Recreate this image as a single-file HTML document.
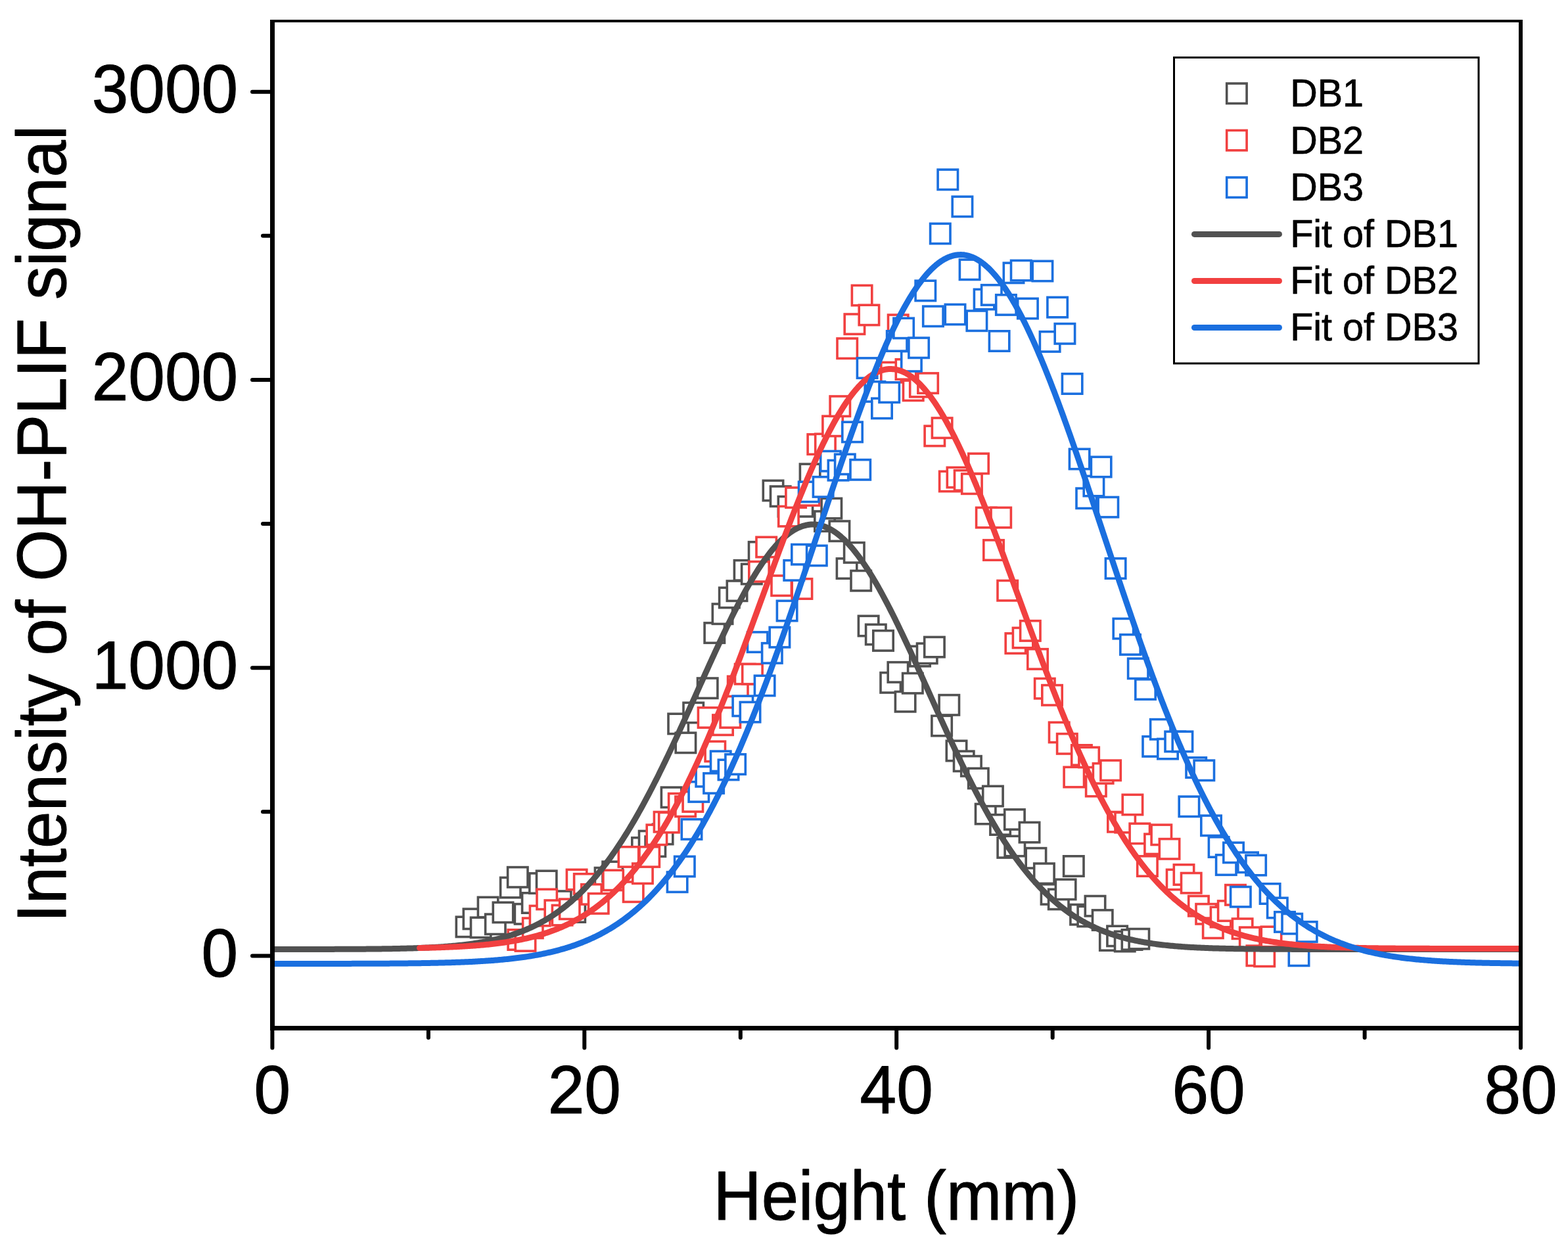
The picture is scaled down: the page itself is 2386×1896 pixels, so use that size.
<!DOCTYPE html><html><head><meta charset="utf-8"><title>OH-PLIF</title><style>html,body{margin:0;padding:0;background:#fff;overflow:hidden}svg{display:block}</style></head><body>
<svg width="2386" height="1896" viewBox="0 0 2386 1896">
<rect width="2386" height="1896" fill="#fff"/>
<defs><clipPath id="pa"><rect x="418" y="34" width="1893" height="1527"/></clipPath></defs>
<g clip-path="url(#pa)" fill="#fff" stroke="#515151" stroke-width="3.6" stroke-linejoin="miter">
<rect x="694.3" y="1395.2" width="30.4" height="30.4"/>
<rect x="705.3" y="1383.1" width="30.4" height="30.4"/>
<rect x="716.5" y="1396.2" width="30.4" height="30.4"/>
<rect x="727.4" y="1365.3" width="30.4" height="30.4"/>
<rect x="738.6" y="1391.1" width="30.4" height="30.4"/>
<rect x="750.3" y="1373.2" width="30.4" height="30.4"/>
<rect x="761.6" y="1335.4" width="30.4" height="30.4"/>
<rect x="772.6" y="1319.6" width="30.4" height="30.4"/>
<rect x="783.4" y="1375.6" width="30.4" height="30.4"/>
<rect x="794.6" y="1358.8" width="30.4" height="30.4"/>
<rect x="805.8" y="1328.9" width="30.4" height="30.4"/>
<rect x="816.5" y="1325.2" width="30.4" height="30.4"/>
<rect x="838.5" y="1356.0" width="30.4" height="30.4"/>
<rect x="860.0" y="1372.8" width="30.4" height="30.4"/>
<rect x="905.4" y="1320.5" width="30.4" height="30.4"/>
<rect x="917.0" y="1311.2" width="30.4" height="30.4"/>
<rect x="961.8" y="1274.7" width="30.4" height="30.4"/>
<rect x="972.5" y="1264.5" width="30.4" height="30.4"/>
<rect x="982.1" y="1272.9" width="30.4" height="30.4"/>
<rect x="993.4" y="1254.2" width="30.4" height="30.4"/>
<rect x="1006.4" y="1198.1" width="30.4" height="30.4"/>
<rect x="1017.0" y="1086.2" width="30.4" height="30.4"/>
<rect x="1028.2" y="1115.1" width="30.4" height="30.4"/>
<rect x="1040.0" y="1069.3" width="30.4" height="30.4"/>
<rect x="1061.5" y="1032.0" width="30.4" height="30.4"/>
<rect x="1072.1" y="947.9" width="30.4" height="30.4"/>
<rect x="1084.3" y="919.0" width="30.4" height="30.4"/>
<rect x="1094.6" y="894.3" width="30.4" height="30.4"/>
<rect x="1106.3" y="884.0" width="30.4" height="30.4"/>
<rect x="1117.4" y="852.7" width="30.4" height="30.4"/>
<rect x="1128.6" y="858.3" width="30.4" height="30.4"/>
<rect x="1139.5" y="824.7" width="30.4" height="30.4"/>
<rect x="1161.3" y="731.3" width="30.4" height="30.4"/>
<rect x="1172.5" y="740.1" width="30.4" height="30.4"/>
<rect x="1184.3" y="755.6" width="30.4" height="30.4"/>
<rect x="1206.2" y="755.6" width="30.4" height="30.4"/>
<rect x="1217.4" y="706.1" width="30.4" height="30.4"/>
<rect x="1239.8" y="778.0" width="30.4" height="30.4"/>
<rect x="1250.1" y="758.4" width="30.4" height="30.4"/>
<rect x="1262.2" y="793.0" width="30.4" height="30.4"/>
<rect x="1273.4" y="849.9" width="30.4" height="30.4"/>
<rect x="1284.6" y="825.7" width="30.4" height="30.4"/>
<rect x="1295.0" y="868.5" width="30.4" height="30.4"/>
<rect x="1306.4" y="937.3" width="30.4" height="30.4"/>
<rect x="1317.6" y="950.3" width="30.4" height="30.4"/>
<rect x="1328.8" y="959.7" width="30.4" height="30.4"/>
<rect x="1340.0" y="1023.6" width="30.4" height="30.4"/>
<rect x="1351.2" y="1007.7" width="30.4" height="30.4"/>
<rect x="1362.4" y="1052.5" width="30.4" height="30.4"/>
<rect x="1373.6" y="1024.5" width="30.4" height="30.4"/>
<rect x="1384.8" y="983.4" width="30.4" height="30.4"/>
<rect x="1395.5" y="979.1" width="30.4" height="30.4"/>
<rect x="1406.7" y="969.4" width="30.4" height="30.4"/>
<rect x="1417.9" y="1089.3" width="30.4" height="30.4"/>
<rect x="1429.1" y="1057.6" width="30.4" height="30.4"/>
<rect x="1440.3" y="1127.3" width="30.4" height="30.4"/>
<rect x="1451.5" y="1143.1" width="30.4" height="30.4"/>
<rect x="1462.7" y="1150.6" width="30.4" height="30.4"/>
<rect x="1473.6" y="1169.2" width="30.4" height="30.4"/>
<rect x="1484.5" y="1223.4" width="30.4" height="30.4"/>
<rect x="1495.7" y="1196.3" width="30.4" height="30.4"/>
<rect x="1506.9" y="1239.8" width="30.4" height="30.4"/>
<rect x="1518.1" y="1274.7" width="30.4" height="30.4"/>
<rect x="1528.7" y="1231.8" width="30.4" height="30.4"/>
<rect x="1529.1" y="1272.3" width="30.4" height="30.4"/>
<rect x="1551.3" y="1251.4" width="30.4" height="30.4"/>
<rect x="1561.2" y="1290.6" width="30.4" height="30.4"/>
<rect x="1573.7" y="1314.0" width="30.4" height="30.4"/>
<rect x="1584.4" y="1345.7" width="30.4" height="30.4"/>
<rect x="1595.6" y="1353.2" width="30.4" height="30.4"/>
<rect x="1606.4" y="1338.2" width="30.4" height="30.4"/>
<rect x="1618.6" y="1302.8" width="30.4" height="30.4"/>
<rect x="1628.9" y="1376.5" width="30.4" height="30.4"/>
<rect x="1640.1" y="1379.3" width="30.4" height="30.4"/>
<rect x="1651.3" y="1363.5" width="30.4" height="30.4"/>
<rect x="1662.5" y="1384.9" width="30.4" height="30.4"/>
<rect x="1673.7" y="1415.8" width="30.4" height="30.4"/>
<rect x="1684.9" y="1409.2" width="30.4" height="30.4"/>
<rect x="1696.5" y="1417.3" width="30.4" height="30.4"/>
<rect x="1707.3" y="1414.8" width="30.4" height="30.4"/>
<rect x="1718.1" y="1413.5" width="30.4" height="30.4"/>
</g>
<g clip-path="url(#pa)" fill="#fff" stroke="#F14040" stroke-width="3.6" stroke-linejoin="miter">
<rect x="773.1" y="1414.8" width="30.4" height="30.4"/>
<rect x="784.3" y="1416.7" width="30.4" height="30.4"/>
<rect x="795.6" y="1397.1" width="30.4" height="30.4"/>
<rect x="806.4" y="1378.4" width="30.4" height="30.4"/>
<rect x="817.0" y="1353.2" width="30.4" height="30.4"/>
<rect x="829.2" y="1370.0" width="30.4" height="30.4"/>
<rect x="840.4" y="1377.5" width="30.4" height="30.4"/>
<rect x="851.6" y="1368.1" width="30.4" height="30.4"/>
<rect x="862.4" y="1323.3" width="30.4" height="30.4"/>
<rect x="873.6" y="1329.8" width="30.4" height="30.4"/>
<rect x="884.8" y="1345.7" width="30.4" height="30.4"/>
<rect x="895.5" y="1359.7" width="30.4" height="30.4"/>
<rect x="917.9" y="1324.2" width="30.4" height="30.4"/>
<rect x="941.3" y="1288.7" width="30.4" height="30.4"/>
<rect x="948.5" y="1342.0" width="30.4" height="30.4"/>
<rect x="962.7" y="1314.0" width="30.4" height="30.4"/>
<rect x="973.0" y="1288.7" width="30.4" height="30.4"/>
<rect x="984.2" y="1255.1" width="30.4" height="30.4"/>
<rect x="995.4" y="1235.5" width="30.4" height="30.4"/>
<rect x="1002.7" y="1236.4" width="30.4" height="30.4"/>
<rect x="1017.6" y="1207.5" width="30.4" height="30.4"/>
<rect x="1027.9" y="1212.1" width="30.4" height="30.4"/>
<rect x="1039.1" y="1204.7" width="30.4" height="30.4"/>
<rect x="1062.4" y="1076.8" width="30.4" height="30.4"/>
<rect x="1073.1" y="1128.2" width="30.4" height="30.4"/>
<rect x="1084.8" y="1088.0" width="30.4" height="30.4"/>
<rect x="1096.1" y="1076.8" width="30.4" height="30.4"/>
<rect x="1107.6" y="1029.2" width="30.4" height="30.4"/>
<rect x="1118.5" y="1010.5" width="30.4" height="30.4"/>
<rect x="1129.7" y="1010.5" width="30.4" height="30.4"/>
<rect x="1139.8" y="854.6" width="30.4" height="30.4"/>
<rect x="1151.0" y="817.3" width="30.4" height="30.4"/>
<rect x="1174.0" y="876.0" width="30.4" height="30.4"/>
<rect x="1184.7" y="770.5" width="30.4" height="30.4"/>
<rect x="1195.9" y="742.0" width="30.4" height="30.4"/>
<rect x="1205.2" y="880.8" width="30.4" height="30.4"/>
<rect x="1216.4" y="738.8" width="30.4" height="30.4"/>
<rect x="1229.1" y="660.9" width="30.4" height="30.4"/>
<rect x="1240.7" y="660.3" width="30.4" height="30.4"/>
<rect x="1251.9" y="633.2" width="30.4" height="30.4"/>
<rect x="1263.1" y="603.0" width="30.4" height="30.4"/>
<rect x="1274.0" y="515.0" width="30.4" height="30.4"/>
<rect x="1285.2" y="478.0" width="30.4" height="30.4"/>
<rect x="1296.4" y="434.3" width="30.4" height="30.4"/>
<rect x="1307.2" y="464.2" width="30.4" height="30.4"/>
<rect x="1340.8" y="551.4" width="30.4" height="30.4"/>
<rect x="1351.5" y="479.1" width="30.4" height="30.4"/>
<rect x="1363.3" y="546.8" width="30.4" height="30.4"/>
<rect x="1374.5" y="579.1" width="30.4" height="30.4"/>
<rect x="1384.7" y="573.5" width="30.4" height="30.4"/>
<rect x="1396.9" y="567.9" width="30.4" height="30.4"/>
<rect x="1407.1" y="648.2" width="30.4" height="30.4"/>
<rect x="1418.4" y="636.0" width="30.4" height="30.4"/>
<rect x="1429.6" y="717.3" width="30.4" height="30.4"/>
<rect x="1441.3" y="711.3" width="30.4" height="30.4"/>
<rect x="1452.5" y="715.8" width="30.4" height="30.4"/>
<rect x="1463.7" y="721.0" width="30.4" height="30.4"/>
<rect x="1473.8" y="690.2" width="30.4" height="30.4"/>
<rect x="1485.6" y="772.4" width="30.4" height="30.4"/>
<rect x="1496.8" y="821.9" width="30.4" height="30.4"/>
<rect x="1508.0" y="772.4" width="30.4" height="30.4"/>
<rect x="1518.0" y="883.5" width="30.4" height="30.4"/>
<rect x="1530.2" y="963.8" width="30.4" height="30.4"/>
<rect x="1541.4" y="955.4" width="30.4" height="30.4"/>
<rect x="1552.6" y="944.7" width="30.4" height="30.4"/>
<rect x="1563.8" y="987.7" width="30.4" height="30.4"/>
<rect x="1574.6" y="1032.5" width="30.4" height="30.4"/>
<rect x="1585.8" y="1042.6" width="30.4" height="30.4"/>
<rect x="1596.5" y="1099.2" width="30.4" height="30.4"/>
<rect x="1608.6" y="1116.6" width="30.4" height="30.4"/>
<rect x="1619.1" y="1167.3" width="30.4" height="30.4"/>
<rect x="1630.7" y="1133.8" width="30.4" height="30.4"/>
<rect x="1641.9" y="1137.2" width="30.4" height="30.4"/>
<rect x="1652.6" y="1181.3" width="30.4" height="30.4"/>
<rect x="1663.4" y="1161.7" width="30.4" height="30.4"/>
<rect x="1674.9" y="1157.1" width="30.4" height="30.4"/>
<rect x="1685.8" y="1235.5" width="30.4" height="30.4"/>
<rect x="1697.0" y="1236.4" width="30.4" height="30.4"/>
<rect x="1708.2" y="1209.3" width="30.4" height="30.4"/>
<rect x="1719.1" y="1253.2" width="30.4" height="30.4"/>
<rect x="1730.7" y="1302.8" width="30.4" height="30.4"/>
<rect x="1741.9" y="1269.1" width="30.4" height="30.4"/>
<rect x="1752.1" y="1255.1" width="30.4" height="30.4"/>
<rect x="1764.3" y="1276.6" width="30.4" height="30.4"/>
<rect x="1775.5" y="1323.3" width="30.4" height="30.4"/>
<rect x="1786.3" y="1315.8" width="30.4" height="30.4"/>
<rect x="1797.5" y="1328.5" width="30.4" height="30.4"/>
<rect x="1808.7" y="1363.5" width="30.4" height="30.4"/>
<rect x="1820.0" y="1375.6" width="30.4" height="30.4"/>
<rect x="1830.6" y="1397.1" width="30.4" height="30.4"/>
<rect x="1842.4" y="1380.3" width="30.4" height="30.4"/>
<rect x="1853.6" y="1370.9" width="30.4" height="30.4"/>
<rect x="1864.8" y="1346.6" width="30.4" height="30.4"/>
<rect x="1875.4" y="1398.0" width="30.4" height="30.4"/>
<rect x="1886.6" y="1411.1" width="30.4" height="30.4"/>
<rect x="1897.2" y="1439.1" width="30.4" height="30.4"/>
<rect x="1909.0" y="1440.1" width="30.4" height="30.4"/>
<rect x="1919.3" y="1410.2" width="30.4" height="30.4"/>
</g>
<g clip-path="url(#pa)" fill="#fff" stroke="#1A6FDF" stroke-width="3.6" stroke-linejoin="miter">
<rect x="1015.4" y="1327.0" width="30.4" height="30.4"/>
<rect x="1026.6" y="1303.3" width="30.4" height="30.4"/>
<rect x="1037.3" y="1246.7" width="30.4" height="30.4"/>
<rect x="1048.1" y="1189.7" width="30.4" height="30.4"/>
<rect x="1059.1" y="1166.5" width="30.4" height="30.4"/>
<rect x="1070.9" y="1176.7" width="30.4" height="30.4"/>
<rect x="1081.5" y="1143.1" width="30.4" height="30.4"/>
<rect x="1093.3" y="1156.2" width="30.4" height="30.4"/>
<rect x="1103.9" y="1147.8" width="30.4" height="30.4"/>
<rect x="1115.1" y="1059.1" width="30.4" height="30.4"/>
<rect x="1126.3" y="1068.4" width="30.4" height="30.4"/>
<rect x="1137.5" y="961.9" width="30.4" height="30.4"/>
<rect x="1148.4" y="1028.2" width="30.4" height="30.4"/>
<rect x="1159.6" y="978.7" width="30.4" height="30.4"/>
<rect x="1171.2" y="954.5" width="30.4" height="30.4"/>
<rect x="1182.4" y="914.3" width="30.4" height="30.4"/>
<rect x="1193.1" y="852.7" width="30.4" height="30.4"/>
<rect x="1204.8" y="828.5" width="30.4" height="30.4"/>
<rect x="1215.5" y="733.2" width="30.4" height="30.4"/>
<rect x="1227.6" y="830.3" width="30.4" height="30.4"/>
<rect x="1237.4" y="725.7" width="30.4" height="30.4"/>
<rect x="1248.7" y="686.5" width="30.4" height="30.4"/>
<rect x="1260.3" y="700.5" width="30.4" height="30.4"/>
<rect x="1270.6" y="691.2" width="30.4" height="30.4"/>
<rect x="1281.8" y="642.2" width="30.4" height="30.4"/>
<rect x="1294.0" y="699.6" width="30.4" height="30.4"/>
<rect x="1304.4" y="544.9" width="30.4" height="30.4"/>
<rect x="1316.2" y="580.7" width="30.4" height="30.4"/>
<rect x="1326.8" y="606.2" width="30.4" height="30.4"/>
<rect x="1338.0" y="581.9" width="30.4" height="30.4"/>
<rect x="1349.6" y="503.8" width="30.4" height="30.4"/>
<rect x="1359.9" y="484.2" width="30.4" height="30.4"/>
<rect x="1371.7" y="534.6" width="30.4" height="30.4"/>
<rect x="1382.9" y="514.1" width="30.4" height="30.4"/>
<rect x="1393.1" y="427.2" width="30.4" height="30.4"/>
<rect x="1404.7" y="466.1" width="30.4" height="30.4"/>
<rect x="1415.6" y="340.3" width="30.4" height="30.4"/>
<rect x="1427.1" y="258.1" width="30.4" height="30.4"/>
<rect x="1438.3" y="463.3" width="30.4" height="30.4"/>
<rect x="1449.2" y="299.2" width="30.4" height="30.4"/>
<rect x="1460.4" y="395.1" width="30.4" height="30.4"/>
<rect x="1471.2" y="473.0" width="30.4" height="30.4"/>
<rect x="1482.4" y="440.3" width="30.4" height="30.4"/>
<rect x="1493.6" y="433.7" width="30.4" height="30.4"/>
<rect x="1505.4" y="503.8" width="30.4" height="30.4"/>
<rect x="1515.7" y="448.7" width="30.4" height="30.4"/>
<rect x="1527.3" y="400.1" width="30.4" height="30.4"/>
<rect x="1538.5" y="396.4" width="30.4" height="30.4"/>
<rect x="1548.7" y="454.3" width="30.4" height="30.4"/>
<rect x="1571.2" y="397.3" width="30.4" height="30.4"/>
<rect x="1582.4" y="504.7" width="30.4" height="30.4"/>
<rect x="1593.9" y="452.4" width="30.4" height="30.4"/>
<rect x="1605.2" y="492.6" width="30.4" height="30.4"/>
<rect x="1616.4" y="568.8" width="30.4" height="30.4"/>
<rect x="1627.4" y="683.3" width="30.4" height="30.4"/>
<rect x="1638.0" y="743.1" width="30.4" height="30.4"/>
<rect x="1649.2" y="724.4" width="30.4" height="30.4"/>
<rect x="1660.4" y="695.3" width="30.4" height="30.4"/>
<rect x="1671.1" y="756.5" width="30.4" height="30.4"/>
<rect x="1682.4" y="849.8" width="30.4" height="30.4"/>
<rect x="1694.2" y="941.4" width="30.4" height="30.4"/>
<rect x="1704.8" y="965.7" width="30.4" height="30.4"/>
<rect x="1716.6" y="1002.1" width="30.4" height="30.4"/>
<rect x="1727.8" y="1033.8" width="30.4" height="30.4"/>
<rect x="1739.0" y="1120.7" width="30.4" height="30.4"/>
<rect x="1750.6" y="1094.6" width="30.4" height="30.4"/>
<rect x="1761.8" y="1124.4" width="30.4" height="30.4"/>
<rect x="1773.0" y="1113.2" width="30.4" height="30.4"/>
<rect x="1784.2" y="1113.2" width="30.4" height="30.4"/>
<rect x="1794.2" y="1212.1" width="30.4" height="30.4"/>
<rect x="1805.0" y="1152.8" width="30.4" height="30.4"/>
<rect x="1817.1" y="1157.1" width="30.4" height="30.4"/>
<rect x="1827.8" y="1241.1" width="30.4" height="30.4"/>
<rect x="1839.4" y="1273.8" width="30.4" height="30.4"/>
<rect x="1850.6" y="1300.9" width="30.4" height="30.4"/>
<rect x="1861.8" y="1282.2" width="30.4" height="30.4"/>
<rect x="1872.6" y="1349.5" width="30.4" height="30.4"/>
<rect x="1883.8" y="1297.1" width="30.4" height="30.4"/>
<rect x="1895.9" y="1301.4" width="30.4" height="30.4"/>
<rect x="1917.4" y="1344.8" width="30.4" height="30.4"/>
<rect x="1928.6" y="1366.3" width="30.4" height="30.4"/>
<rect x="1939.8" y="1387.7" width="30.4" height="30.4"/>
<rect x="1951.0" y="1390.5" width="30.4" height="30.4"/>
<rect x="1961.3" y="1439.1" width="30.4" height="30.4"/>
<rect x="1973.5" y="1402.7" width="30.4" height="30.4"/>
</g>
<path clip-path="url(#pa)" fill="none" stroke="#515151" stroke-width="9" stroke-linecap="round" stroke-linejoin="round" d="M412.0 1444.49 L414.0 1444.49 L416.0 1444.49 L418.0 1444.49 L420.0 1444.49 L422.0 1444.49 L424.0 1444.48 L426.0 1444.48 L428.0 1444.48 L430.0 1444.48 L432.0 1444.48 L434.0 1444.48 L436.0 1444.48 L438.0 1444.48 L440.0 1444.48 L442.0 1444.48 L444.0 1444.47 L446.0 1444.47 L448.0 1444.47 L450.0 1444.47 L452.0 1444.47 L454.0 1444.47 L456.0 1444.47 L458.0 1444.46 L460.0 1444.46 L462.0 1444.46 L464.0 1444.46 L466.0 1444.46 L468.0 1444.45 L470.0 1444.45 L472.0 1444.45 L474.0 1444.45 L476.0 1444.44 L478.0 1444.44 L480.0 1444.44 L482.0 1444.43 L484.0 1444.43 L486.0 1444.43 L488.0 1444.42 L490.0 1444.42 L492.0 1444.42 L494.0 1444.41 L496.0 1444.41 L498.0 1444.40 L500.0 1444.40 L502.0 1444.39 L504.0 1444.39 L506.0 1444.38 L508.0 1444.38 L510.0 1444.37 L512.0 1444.37 L514.0 1444.36 L516.0 1444.35 L518.0 1444.35 L520.0 1444.34 L522.0 1444.33 L524.0 1444.32 L526.0 1444.32 L528.0 1444.31 L530.0 1444.30 L532.0 1444.29 L534.0 1444.28 L536.0 1444.27 L538.0 1444.26 L540.0 1444.25 L542.0 1444.23 L544.0 1444.22 L546.0 1444.21 L548.0 1444.20 L550.0 1444.18 L552.0 1444.17 L554.0 1444.15 L556.0 1444.14 L558.0 1444.12 L560.0 1444.10 L562.0 1444.09 L564.0 1444.07 L566.0 1444.05 L568.0 1444.03 L570.0 1444.01 L572.0 1443.99 L574.0 1443.96 L576.0 1443.94 L578.0 1443.92 L580.0 1443.89 L582.0 1443.86 L584.0 1443.84 L586.0 1443.81 L588.0 1443.78 L590.0 1443.75 L592.0 1443.72 L594.0 1443.68 L596.0 1443.65 L598.0 1443.61 L600.0 1443.58 L602.0 1443.54 L604.0 1443.50 L606.0 1443.45 L608.0 1443.41 L610.0 1443.37 L612.0 1443.32 L614.0 1443.27 L616.0 1443.22 L618.0 1443.17 L620.0 1443.11 L622.0 1443.06 L624.0 1443.00 L626.0 1442.94 L628.0 1442.88 L630.0 1442.81 L632.0 1442.74 L634.0 1442.67 L636.0 1442.60 L638.0 1442.53 L640.0 1442.45 L642.0 1442.37 L644.0 1442.28 L646.0 1442.20 L648.0 1442.11 L650.0 1442.02 L652.0 1441.92 L654.0 1441.82 L656.0 1441.72 L658.0 1441.61 L660.0 1441.50 L662.0 1441.39 L664.0 1441.27 L666.0 1441.15 L668.0 1441.03 L670.0 1440.90 L672.0 1440.76 L674.0 1440.62 L676.0 1440.48 L678.0 1440.33 L680.0 1440.18 L682.0 1440.02 L684.0 1439.86 L686.0 1439.69 L688.0 1439.51 L690.0 1439.34 L692.0 1439.15 L694.0 1438.96 L696.0 1438.76 L698.0 1438.56 L700.0 1438.35 L702.0 1438.13 L704.0 1437.91 L706.0 1437.68 L708.0 1437.44 L710.0 1437.19 L712.0 1436.94 L714.0 1436.68 L716.0 1436.41 L718.0 1436.14 L720.0 1435.85 L722.0 1435.56 L724.0 1435.26 L726.0 1434.95 L728.0 1434.63 L730.0 1434.30 L732.0 1433.96 L734.0 1433.61 L736.0 1433.25 L738.0 1432.88 L740.0 1432.51 L742.0 1432.11 L744.0 1431.71 L746.0 1431.30 L748.0 1430.88 L750.0 1430.44 L752.0 1429.99 L754.0 1429.53 L756.0 1429.06 L758.0 1428.57 L760.0 1428.07 L762.0 1427.56 L764.0 1427.03 L766.0 1426.49 L768.0 1425.94 L770.0 1425.37 L772.0 1424.79 L774.0 1424.19 L776.0 1423.57 L778.0 1422.94 L780.0 1422.29 L782.0 1421.63 L784.0 1420.95 L786.0 1420.25 L788.0 1419.54 L790.0 1418.80 L792.0 1418.05 L794.0 1417.28 L796.0 1416.50 L798.0 1415.69 L800.0 1414.86 L802.0 1414.02 L804.0 1413.15 L806.0 1412.26 L808.0 1411.36 L810.0 1410.43 L812.0 1409.48 L814.0 1408.50 L816.0 1407.51 L818.0 1406.49 L820.0 1405.45 L822.0 1404.39 L824.0 1403.30 L826.0 1402.19 L828.0 1401.06 L830.0 1399.90 L832.0 1398.71 L834.0 1397.50 L836.0 1396.27 L838.0 1395.01 L840.0 1393.72 L842.0 1392.40 L844.0 1391.06 L846.0 1389.69 L848.0 1388.29 L850.0 1386.87 L852.0 1385.41 L854.0 1383.93 L856.0 1382.42 L858.0 1380.88 L860.0 1379.30 L862.0 1377.70 L864.0 1376.07 L866.0 1374.41 L868.0 1372.71 L870.0 1370.99 L872.0 1369.23 L874.0 1367.44 L876.0 1365.61 L878.0 1363.76 L880.0 1361.87 L882.0 1359.95 L884.0 1358.00 L886.0 1356.01 L888.0 1353.98 L890.0 1351.93 L892.0 1349.84 L894.0 1347.71 L896.0 1345.55 L898.0 1343.35 L900.0 1341.12 L902.0 1338.85 L904.0 1336.55 L906.0 1334.21 L908.0 1331.84 L910.0 1329.43 L912.0 1326.98 L914.0 1324.49 L916.0 1321.97 L918.0 1319.41 L920.0 1316.82 L922.0 1314.19 L924.0 1311.52 L926.0 1308.81 L928.0 1306.07 L930.0 1303.29 L932.0 1300.47 L934.0 1297.62 L936.0 1294.72 L938.0 1291.80 L940.0 1288.83 L942.0 1285.83 L944.0 1282.78 L946.0 1279.71 L948.0 1276.59 L950.0 1273.44 L952.0 1270.25 L954.0 1267.03 L956.0 1263.77 L958.0 1260.47 L960.0 1257.14 L962.0 1253.77 L964.0 1250.36 L966.0 1246.92 L968.0 1243.45 L970.0 1239.94 L972.0 1236.40 L974.0 1232.82 L976.0 1229.21 L978.0 1225.56 L980.0 1221.89 L982.0 1218.18 L984.0 1214.43 L986.0 1210.66 L988.0 1206.85 L990.0 1203.02 L992.0 1199.15 L994.0 1195.26 L996.0 1191.33 L998.0 1187.38 L1000.0 1183.40 L1002.0 1179.39 L1004.0 1175.35 L1006.0 1171.29 L1008.0 1167.20 L1010.0 1163.09 L1012.0 1158.95 L1014.0 1154.79 L1016.0 1150.61 L1018.0 1146.41 L1020.0 1142.18 L1022.0 1137.93 L1024.0 1133.67 L1026.0 1129.39 L1028.0 1125.08 L1030.0 1120.77 L1032.0 1116.43 L1034.0 1112.08 L1036.0 1107.72 L1038.0 1103.34 L1040.0 1098.95 L1042.0 1094.55 L1044.0 1090.14 L1046.0 1085.72 L1048.0 1081.29 L1050.0 1076.85 L1052.0 1072.41 L1054.0 1067.97 L1056.0 1063.51 L1058.0 1059.06 L1060.0 1054.61 L1062.0 1050.15 L1064.0 1045.69 L1066.0 1041.24 L1068.0 1036.79 L1070.0 1032.34 L1072.0 1027.90 L1074.0 1023.47 L1076.0 1019.04 L1078.0 1014.62 L1080.0 1010.22 L1082.0 1005.82 L1084.0 1001.44 L1086.0 997.07 L1088.0 992.71 L1090.0 988.37 L1092.0 984.05 L1094.0 979.75 L1096.0 975.47 L1098.0 971.21 L1100.0 966.98 L1102.0 962.77 L1104.0 958.58 L1106.0 954.42 L1108.0 950.29 L1110.0 946.19 L1112.0 942.12 L1114.0 938.08 L1116.0 934.07 L1118.0 930.10 L1120.0 926.17 L1122.0 922.27 L1124.0 918.42 L1126.0 914.60 L1128.0 910.82 L1130.0 907.09 L1132.0 903.40 L1134.0 899.75 L1136.0 896.15 L1138.0 892.60 L1140.0 889.10 L1142.0 885.64 L1144.0 882.24 L1146.0 878.89 L1148.0 875.59 L1150.0 872.35 L1152.0 869.17 L1154.0 866.04 L1156.0 862.97 L1158.0 859.95 L1160.0 857.00 L1162.0 854.11 L1164.0 851.29 L1166.0 848.52 L1168.0 845.82 L1170.0 843.19 L1172.0 840.62 L1174.0 838.12 L1176.0 835.69 L1178.0 833.32 L1180.0 831.03 L1182.0 828.81 L1184.0 826.66 L1186.0 824.58 L1188.0 822.58 L1190.0 820.65 L1192.0 818.79 L1194.0 817.01 L1196.0 815.31 L1198.0 813.68 L1200.0 812.13 L1202.0 810.66 L1204.0 809.26 L1206.0 807.95 L1208.0 806.72 L1210.0 805.56 L1212.0 804.49 L1214.0 803.50 L1216.0 802.59 L1218.0 801.76 L1220.0 801.01 L1222.0 800.34 L1224.0 799.76 L1226.0 799.26 L1228.0 798.84 L1230.0 798.51 L1232.0 798.26 L1234.0 798.09 L1236.0 798.01 L1238.0 798.01 L1240.0 798.09 L1242.0 798.26 L1244.0 798.51 L1246.0 798.84 L1248.0 799.26 L1250.0 799.76 L1252.0 800.34 L1254.0 801.01 L1256.0 801.76 L1258.0 802.59 L1260.0 803.50 L1262.0 804.49 L1264.0 805.56 L1266.0 806.72 L1268.0 807.95 L1270.0 809.26 L1272.0 810.66 L1274.0 812.13 L1276.0 813.68 L1278.0 815.31 L1280.0 817.01 L1282.0 818.79 L1284.0 820.65 L1286.0 822.58 L1288.0 824.58 L1290.0 826.66 L1292.0 828.81 L1294.0 831.03 L1296.0 833.32 L1298.0 835.69 L1300.0 838.12 L1302.0 840.62 L1304.0 843.19 L1306.0 845.82 L1308.0 848.52 L1310.0 851.29 L1312.0 854.11 L1314.0 857.00 L1316.0 859.95 L1318.0 862.97 L1320.0 866.04 L1322.0 869.17 L1324.0 872.35 L1326.0 875.59 L1328.0 878.89 L1330.0 882.24 L1332.0 885.64 L1334.0 889.10 L1336.0 892.60 L1338.0 896.15 L1340.0 899.75 L1342.0 903.40 L1344.0 907.09 L1346.0 910.82 L1348.0 914.60 L1350.0 918.42 L1352.0 922.27 L1354.0 926.17 L1356.0 930.10 L1358.0 934.07 L1360.0 938.08 L1362.0 942.12 L1364.0 946.19 L1366.0 950.29 L1368.0 954.42 L1370.0 958.58 L1372.0 962.77 L1374.0 966.98 L1376.0 971.21 L1378.0 975.47 L1380.0 979.75 L1382.0 984.05 L1384.0 988.37 L1386.0 992.71 L1388.0 997.07 L1390.0 1001.44 L1392.0 1005.82 L1394.0 1010.22 L1396.0 1014.62 L1398.0 1019.04 L1400.0 1023.47 L1402.0 1027.90 L1404.0 1032.34 L1406.0 1036.79 L1408.0 1041.24 L1410.0 1045.69 L1412.0 1050.15 L1414.0 1054.61 L1416.0 1059.06 L1418.0 1063.51 L1420.0 1067.97 L1422.0 1072.41 L1424.0 1076.85 L1426.0 1081.29 L1428.0 1085.72 L1430.0 1090.14 L1432.0 1094.55 L1434.0 1098.95 L1436.0 1103.34 L1438.0 1107.72 L1440.0 1112.08 L1442.0 1116.43 L1444.0 1120.77 L1446.0 1125.08 L1448.0 1129.39 L1450.0 1133.67 L1452.0 1137.93 L1454.0 1142.18 L1456.0 1146.41 L1458.0 1150.61 L1460.0 1154.79 L1462.0 1158.95 L1464.0 1163.09 L1466.0 1167.20 L1468.0 1171.29 L1470.0 1175.35 L1472.0 1179.39 L1474.0 1183.40 L1476.0 1187.38 L1478.0 1191.33 L1480.0 1195.26 L1482.0 1199.15 L1484.0 1203.02 L1486.0 1206.85 L1488.0 1210.66 L1490.0 1214.43 L1492.0 1218.18 L1494.0 1221.89 L1496.0 1225.56 L1498.0 1229.21 L1500.0 1232.82 L1502.0 1236.40 L1504.0 1239.94 L1506.0 1243.45 L1508.0 1246.92 L1510.0 1250.36 L1512.0 1253.77 L1514.0 1257.14 L1516.0 1260.47 L1518.0 1263.77 L1520.0 1267.03 L1522.0 1270.25 L1524.0 1273.44 L1526.0 1276.59 L1528.0 1279.71 L1530.0 1282.78 L1532.0 1285.83 L1534.0 1288.83 L1536.0 1291.80 L1538.0 1294.72 L1540.0 1297.62 L1542.0 1300.47 L1544.0 1303.29 L1546.0 1306.07 L1548.0 1308.81 L1550.0 1311.52 L1552.0 1314.19 L1554.0 1316.82 L1556.0 1319.41 L1558.0 1321.97 L1560.0 1324.49 L1562.0 1326.98 L1564.0 1329.43 L1566.0 1331.84 L1568.0 1334.21 L1570.0 1336.55 L1572.0 1338.85 L1574.0 1341.12 L1576.0 1343.35 L1578.0 1345.55 L1580.0 1347.71 L1582.0 1349.84 L1584.0 1351.93 L1586.0 1353.98 L1588.0 1356.01 L1590.0 1358.00 L1592.0 1359.95 L1594.0 1361.87 L1596.0 1363.76 L1598.0 1365.61 L1600.0 1367.44 L1602.0 1369.23 L1604.0 1370.99 L1606.0 1372.71 L1608.0 1374.41 L1610.0 1376.07 L1612.0 1377.70 L1614.0 1379.30 L1616.0 1380.88 L1618.0 1382.42 L1620.0 1383.93 L1622.0 1385.41 L1624.0 1386.87 L1626.0 1388.29 L1628.0 1389.69 L1630.0 1391.06 L1632.0 1392.40 L1634.0 1393.72 L1636.0 1395.01 L1638.0 1396.27 L1640.0 1397.50 L1642.0 1398.71 L1644.0 1399.90 L1646.0 1401.06 L1648.0 1402.19 L1650.0 1403.30 L1652.0 1404.39 L1654.0 1405.45 L1656.0 1406.49 L1658.0 1407.51 L1660.0 1408.50 L1662.0 1409.48 L1664.0 1410.43 L1666.0 1411.36 L1668.0 1412.26 L1670.0 1413.15 L1672.0 1414.02 L1674.0 1414.86 L1676.0 1415.69 L1678.0 1416.50 L1680.0 1417.28 L1682.0 1418.05 L1684.0 1418.80 L1686.0 1419.54 L1688.0 1420.25 L1690.0 1420.95 L1692.0 1421.63 L1694.0 1422.29 L1696.0 1422.94 L1698.0 1423.57 L1700.0 1424.19 L1702.0 1424.79 L1704.0 1425.37 L1706.0 1425.94 L1708.0 1426.49 L1710.0 1427.03 L1712.0 1427.56 L1714.0 1428.07 L1716.0 1428.57 L1718.0 1429.06 L1720.0 1429.53 L1722.0 1429.99 L1724.0 1430.44 L1726.0 1430.88 L1728.0 1431.30 L1730.0 1431.71 L1732.0 1432.11 L1734.0 1432.51 L1736.0 1432.88 L1738.0 1433.25 L1740.0 1433.61 L1742.0 1433.96 L1744.0 1434.30 L1746.0 1434.63 L1748.0 1434.95 L1750.0 1435.26 L1752.0 1435.56 L1754.0 1435.85 L1756.0 1436.14 L1758.0 1436.41 L1760.0 1436.68 L1762.0 1436.94 L1764.0 1437.19 L1766.0 1437.44 L1768.0 1437.68 L1770.0 1437.91 L1772.0 1438.13 L1774.0 1438.35 L1776.0 1438.56 L1778.0 1438.76 L1780.0 1438.96 L1782.0 1439.15 L1784.0 1439.34 L1786.0 1439.51 L1788.0 1439.69 L1790.0 1439.86 L1792.0 1440.02 L1794.0 1440.18 L1796.0 1440.33 L1798.0 1440.48 L1800.0 1440.62 L1802.0 1440.76 L1804.0 1440.90 L1806.0 1441.03 L1808.0 1441.15 L1810.0 1441.27 L1812.0 1441.39 L1814.0 1441.50 L1816.0 1441.61 L1818.0 1441.72 L1820.0 1441.82 L1822.0 1441.92 L1824.0 1442.02 L1826.0 1442.11 L1828.0 1442.20 L1830.0 1442.28 L1832.0 1442.37 L1834.0 1442.45 L1836.0 1442.53 L1838.0 1442.60 L1840.0 1442.67 L1842.0 1442.74 L1844.0 1442.81 L1846.0 1442.88 L1848.0 1442.94 L1850.0 1443.00 L1852.0 1443.06 L1854.0 1443.11 L1856.0 1443.17 L1858.0 1443.22 L1860.0 1443.27 L1862.0 1443.32 L1864.0 1443.37 L1866.0 1443.41 L1868.0 1443.45 L1870.0 1443.50 L1872.0 1443.54 L1874.0 1443.58 L1876.0 1443.61 L1878.0 1443.65 L1880.0 1443.68 L1882.0 1443.72 L1884.0 1443.75 L1886.0 1443.78 L1888.0 1443.81 L1890.0 1443.84 L1892.0 1443.86 L1894.0 1443.89 L1896.0 1443.92 L1898.0 1443.94 L1900.0 1443.96 L1902.0 1443.99 L1904.0 1444.01 L1906.0 1444.03 L1908.0 1444.05 L1910.0 1444.07 L1912.0 1444.09 L1914.0 1444.10 L1916.0 1444.12 L1918.0 1444.14 L1920.0 1444.15 L1922.0 1444.17 L1924.0 1444.18 L1926.0 1444.20 L1928.0 1444.21 L1930.0 1444.22 L1932.0 1444.23 L1934.0 1444.25 L1936.0 1444.26 L1938.0 1444.27 L1940.0 1444.28 L1942.0 1444.29 L1944.0 1444.30 L1946.0 1444.31 L1948.0 1444.32 L1950.0 1444.32 L1952.0 1444.33 L1954.0 1444.34 L1956.0 1444.35 L1958.0 1444.35 L1960.0 1444.36 L1962.0 1444.37 L1964.0 1444.37 L1966.0 1444.38 L1968.0 1444.38 L1970.0 1444.39 L1972.0 1444.39 L1974.0 1444.40 L1976.0 1444.40 L1978.0 1444.41 L1980.0 1444.41 L1982.0 1444.42 L1984.0 1444.42 L1986.0 1444.42 L1988.0 1444.43 L1990.0 1444.43 L1992.0 1444.43 L1994.0 1444.44 L1996.0 1444.44 L1998.0 1444.44 L2000.0 1444.45 L2002.0 1444.45 L2004.0 1444.45 L2006.0 1444.45 L2008.0 1444.46 L2010.0 1444.46 L2012.0 1444.46 L2014.0 1444.46 L2016.0 1444.46 L2018.0 1444.47 L2020.0 1444.47 L2022.0 1444.47 L2024.0 1444.47 L2026.0 1444.47 L2028.0 1444.47 L2030.0 1444.47 L2032.0 1444.48 L2034.0 1444.48 L2036.0 1444.48 L2038.0 1444.48 L2040.0 1444.48 L2042.0 1444.48 L2044.0 1444.48 L2046.0 1444.48 L2048.0 1444.48 L2050.0 1444.48 L2052.0 1444.49 L2054.0 1444.49 L2056.0 1444.49 L2058.0 1444.49 L2060.0 1444.49 L2062.0 1444.49 L2064.0 1444.49 L2066.0 1444.49 L2068.0 1444.49 L2070.0 1444.49 L2072.0 1444.49 L2074.0 1444.49 L2076.0 1444.49 L2078.0 1444.49 L2080.0 1444.49 L2082.0 1444.49 L2084.0 1444.49 L2086.0 1444.49 L2088.0 1444.49 L2090.0 1444.49 L2092.0 1444.50 L2094.0 1444.50 L2096.0 1444.50 L2098.0 1444.50 L2100.0 1444.50 L2102.0 1444.50 L2104.0 1444.50 L2106.0 1444.50 L2108.0 1444.50 L2110.0 1444.50 L2112.0 1444.50 L2114.0 1444.50 L2116.0 1444.50 L2118.0 1444.50 L2120.0 1444.50 L2122.0 1444.50 L2124.0 1444.50 L2126.0 1444.50 L2128.0 1444.50 L2130.0 1444.50 L2132.0 1444.50 L2134.0 1444.50 L2136.0 1444.50 L2138.0 1444.50 L2140.0 1444.50 L2142.0 1444.50 L2144.0 1444.50 L2146.0 1444.50 L2148.0 1444.50 L2150.0 1444.50 L2152.0 1444.50 L2154.0 1444.50 L2156.0 1444.50 L2158.0 1444.50 L2160.0 1444.50 L2162.0 1444.50 L2164.0 1444.50 L2166.0 1444.50 L2168.0 1444.50 L2170.0 1444.50 L2172.0 1444.50 L2174.0 1444.50 L2176.0 1444.50 L2178.0 1444.50 L2180.0 1444.50 L2182.0 1444.50 L2184.0 1444.50 L2186.0 1444.50 L2188.0 1444.50 L2190.0 1444.50 L2192.0 1444.50 L2194.0 1444.50 L2196.0 1444.50 L2198.0 1444.50 L2200.0 1444.50 L2202.0 1444.50 L2204.0 1444.50 L2206.0 1444.50 L2208.0 1444.50 L2210.0 1444.50 L2212.0 1444.50 L2214.0 1444.50 L2216.0 1444.50 L2218.0 1444.50 L2220.0 1444.50 L2222.0 1444.50 L2224.0 1444.50 L2226.0 1444.50 L2228.0 1444.50 L2230.0 1444.50 L2232.0 1444.50 L2234.0 1444.50 L2236.0 1444.50 L2238.0 1444.50 L2240.0 1444.50 L2242.0 1444.50 L2244.0 1444.50 L2246.0 1444.50 L2248.0 1444.50 L2250.0 1444.50 L2252.0 1444.50 L2254.0 1444.50 L2256.0 1444.50 L2258.0 1444.50 L2260.0 1444.50 L2262.0 1444.50 L2264.0 1444.50 L2266.0 1444.50 L2268.0 1444.50 L2270.0 1444.50 L2272.0 1444.50 L2274.0 1444.50 L2276.0 1444.50 L2278.0 1444.50 L2280.0 1444.50 L2282.0 1444.50 L2284.0 1444.50 L2286.0 1444.50 L2288.0 1444.50 L2290.0 1444.50 L2292.0 1444.50 L2294.0 1444.50 L2296.0 1444.50 L2298.0 1444.50 L2300.0 1444.50 L2302.0 1444.50 L2304.0 1444.50 L2306.0 1444.50 L2308.0 1444.50 L2310.0 1444.50 L2312.0 1444.50"/>
<path clip-path="url(#pa)" fill="none" stroke="#F14040" stroke-width="9" stroke-linecap="round" stroke-linejoin="round" d="M638.5 1442.47 L640.5 1442.43 L642.5 1442.39 L644.5 1442.34 L646.5 1442.30 L648.5 1442.26 L650.5 1442.21 L652.5 1442.16 L654.5 1442.11 L656.5 1442.06 L658.5 1442.00 L660.5 1441.95 L662.5 1441.89 L664.5 1441.83 L666.5 1441.77 L668.5 1441.70 L670.5 1441.64 L672.5 1441.57 L674.5 1441.50 L676.5 1441.43 L678.5 1441.35 L680.5 1441.27 L682.5 1441.19 L684.5 1441.11 L686.5 1441.03 L688.5 1440.94 L690.5 1440.85 L692.5 1440.75 L694.5 1440.65 L696.5 1440.55 L698.5 1440.45 L700.5 1440.34 L702.5 1440.23 L704.5 1440.12 L706.5 1440.00 L708.5 1439.88 L710.5 1439.76 L712.5 1439.63 L714.5 1439.49 L716.5 1439.36 L718.5 1439.22 L720.5 1439.07 L722.5 1438.92 L724.5 1438.77 L726.5 1438.61 L728.5 1438.44 L730.5 1438.27 L732.5 1438.10 L734.5 1437.92 L736.5 1437.73 L738.5 1437.54 L740.5 1437.35 L742.5 1437.15 L744.5 1436.94 L746.5 1436.72 L748.5 1436.50 L750.5 1436.28 L752.5 1436.04 L754.5 1435.80 L756.5 1435.56 L758.5 1435.30 L760.5 1435.04 L762.5 1434.78 L764.5 1434.50 L766.5 1434.22 L768.5 1433.93 L770.5 1433.63 L772.5 1433.32 L774.5 1433.00 L776.5 1432.68 L778.5 1432.34 L780.5 1432.00 L782.5 1431.65 L784.5 1431.29 L786.5 1430.92 L788.5 1430.53 L790.5 1430.14 L792.5 1429.74 L794.5 1429.33 L796.5 1428.91 L798.5 1428.47 L800.5 1428.03 L802.5 1427.57 L804.5 1427.10 L806.5 1426.62 L808.5 1426.13 L810.5 1425.62 L812.5 1425.10 L814.5 1424.57 L816.5 1424.02 L818.5 1423.47 L820.5 1422.89 L822.5 1422.31 L824.5 1421.71 L826.5 1421.09 L828.5 1420.46 L830.5 1419.82 L832.5 1419.15 L834.5 1418.48 L836.5 1417.78 L838.5 1417.07 L840.5 1416.35 L842.5 1415.60 L844.5 1414.84 L846.5 1414.07 L848.5 1413.27 L850.5 1412.45 L852.5 1411.62 L854.5 1410.77 L856.5 1409.90 L858.5 1409.01 L860.5 1408.10 L862.5 1407.17 L864.5 1406.21 L866.5 1405.24 L868.5 1404.25 L870.5 1403.23 L872.5 1402.20 L874.5 1401.14 L876.5 1400.05 L878.5 1398.95 L880.5 1397.82 L882.5 1396.67 L884.5 1395.49 L886.5 1394.29 L888.5 1393.07 L890.5 1391.82 L892.5 1390.54 L894.5 1389.24 L896.5 1387.91 L898.5 1386.56 L900.5 1385.18 L902.5 1383.77 L904.5 1382.34 L906.5 1380.87 L908.5 1379.38 L910.5 1377.86 L912.5 1376.31 L914.5 1374.73 L916.5 1373.13 L918.5 1371.49 L920.5 1369.82 L922.5 1368.12 L924.5 1366.39 L926.5 1364.63 L928.5 1362.83 L930.5 1361.01 L932.5 1359.15 L934.5 1357.26 L936.5 1355.34 L938.5 1353.38 L940.5 1351.39 L942.5 1349.36 L944.5 1347.30 L946.5 1345.21 L948.5 1343.08 L950.5 1340.91 L952.5 1338.71 L954.5 1336.48 L956.5 1334.20 L958.5 1331.89 L960.5 1329.55 L962.5 1327.17 L964.5 1324.75 L966.5 1322.29 L968.5 1319.79 L970.5 1317.26 L972.5 1314.69 L974.5 1312.07 L976.5 1309.42 L978.5 1306.74 L980.5 1304.01 L982.5 1301.24 L984.5 1298.43 L986.5 1295.59 L988.5 1292.70 L990.5 1289.77 L992.5 1286.81 L994.5 1283.80 L996.5 1280.75 L998.5 1277.66 L1000.5 1274.53 L1002.5 1271.36 L1004.5 1268.15 L1006.5 1264.89 L1008.5 1261.60 L1010.5 1258.26 L1012.5 1254.89 L1014.5 1251.47 L1016.5 1248.01 L1018.5 1244.51 L1020.5 1240.96 L1022.5 1237.38 L1024.5 1233.75 L1026.5 1230.09 L1028.5 1226.38 L1030.5 1222.63 L1032.5 1218.84 L1034.5 1215.01 L1036.5 1211.14 L1038.5 1207.22 L1040.5 1203.27 L1042.5 1199.28 L1044.5 1195.24 L1046.5 1191.17 L1048.5 1187.05 L1050.5 1182.90 L1052.5 1178.71 L1054.5 1174.47 L1056.5 1170.20 L1058.5 1165.89 L1060.5 1161.54 L1062.5 1157.16 L1064.5 1152.73 L1066.5 1148.27 L1068.5 1143.77 L1070.5 1139.24 L1072.5 1134.67 L1074.5 1130.06 L1076.5 1125.42 L1078.5 1120.74 L1080.5 1116.03 L1082.5 1111.29 L1084.5 1106.51 L1086.5 1101.70 L1088.5 1096.85 L1090.5 1091.98 L1092.5 1087.07 L1094.5 1082.14 L1096.5 1077.17 L1098.5 1072.18 L1100.5 1067.15 L1102.5 1062.10 L1104.5 1057.02 L1106.5 1051.92 L1108.5 1046.79 L1110.5 1041.63 L1112.5 1036.45 L1114.5 1031.25 L1116.5 1026.02 L1118.5 1020.77 L1120.5 1015.50 L1122.5 1010.22 L1124.5 1004.91 L1126.5 999.58 L1128.5 994.24 L1130.5 988.88 L1132.5 983.50 L1134.5 978.11 L1136.5 972.71 L1138.5 967.29 L1140.5 961.86 L1142.5 956.42 L1144.5 950.97 L1146.5 945.52 L1148.5 940.05 L1150.5 934.58 L1152.5 929.11 L1154.5 923.62 L1156.5 918.14 L1158.5 912.65 L1160.5 907.17 L1162.5 901.68 L1164.5 896.20 L1166.5 890.71 L1168.5 885.24 L1170.5 879.76 L1172.5 874.30 L1174.5 868.84 L1176.5 863.38 L1178.5 857.94 L1180.5 852.51 L1182.5 847.10 L1184.5 841.69 L1186.5 836.30 L1188.5 830.93 L1190.5 825.57 L1192.5 820.24 L1194.5 814.92 L1196.5 809.62 L1198.5 804.35 L1200.5 799.10 L1202.5 793.88 L1204.5 788.68 L1206.5 783.51 L1208.5 778.37 L1210.5 773.26 L1212.5 768.18 L1214.5 763.14 L1216.5 758.13 L1218.5 753.15 L1220.5 748.22 L1222.5 743.32 L1224.5 738.46 L1226.5 733.64 L1228.5 728.86 L1230.5 724.13 L1232.5 719.44 L1234.5 714.80 L1236.5 710.21 L1238.5 705.66 L1240.5 701.16 L1242.5 696.72 L1244.5 692.33 L1246.5 687.99 L1248.5 683.70 L1250.5 679.48 L1252.5 675.31 L1254.5 671.19 L1256.5 667.14 L1258.5 663.15 L1260.5 659.22 L1262.5 655.35 L1264.5 651.55 L1266.5 647.81 L1268.5 644.14 L1270.5 640.54 L1272.5 637.01 L1274.5 633.54 L1276.5 630.15 L1278.5 626.83 L1280.5 623.58 L1282.5 620.40 L1284.5 617.30 L1286.5 614.27 L1288.5 611.32 L1290.5 608.45 L1292.5 605.66 L1294.5 602.94 L1296.5 600.31 L1298.5 597.76 L1300.5 595.28 L1302.5 592.89 L1304.5 590.59 L1306.5 588.36 L1308.5 586.22 L1310.5 584.17 L1312.5 582.20 L1314.5 580.32 L1316.5 578.52 L1318.5 576.82 L1320.5 575.20 L1322.5 573.67 L1324.5 572.22 L1326.5 570.87 L1328.5 569.61 L1330.5 568.43 L1332.5 567.35 L1334.5 566.36 L1336.5 565.46 L1338.5 564.65 L1340.5 563.94 L1342.5 563.31 L1344.5 562.78 L1346.5 562.34 L1348.5 561.99 L1350.5 561.73 L1352.5 561.57 L1354.5 561.50 L1356.5 561.53 L1358.5 561.64 L1360.5 561.85 L1362.5 562.15 L1364.5 562.55 L1366.5 563.03 L1368.5 563.61 L1370.5 564.28 L1372.5 565.04 L1374.5 565.90 L1376.5 566.84 L1378.5 567.88 L1380.5 569.01 L1382.5 570.23 L1384.5 571.54 L1386.5 572.93 L1388.5 574.42 L1390.5 576.00 L1392.5 577.66 L1394.5 579.41 L1396.5 581.25 L1398.5 583.17 L1400.5 585.19 L1402.5 587.28 L1404.5 589.46 L1406.5 591.73 L1408.5 594.08 L1410.5 596.51 L1412.5 599.02 L1414.5 601.62 L1416.5 604.29 L1418.5 607.05 L1420.5 609.88 L1422.5 612.79 L1424.5 615.78 L1426.5 618.84 L1428.5 621.98 L1430.5 625.19 L1432.5 628.48 L1434.5 631.84 L1436.5 635.27 L1438.5 638.77 L1440.5 642.33 L1442.5 645.97 L1444.5 649.67 L1446.5 653.44 L1448.5 657.28 L1450.5 661.18 L1452.5 665.14 L1454.5 669.16 L1456.5 673.24 L1458.5 677.38 L1460.5 681.58 L1462.5 685.84 L1464.5 690.15 L1466.5 694.52 L1468.5 698.93 L1470.5 703.41 L1472.5 707.93 L1474.5 712.50 L1476.5 717.12 L1478.5 721.78 L1480.5 726.49 L1482.5 731.25 L1484.5 736.04 L1486.5 740.88 L1488.5 745.76 L1490.5 750.68 L1492.5 755.64 L1494.5 760.63 L1496.5 765.66 L1498.5 770.72 L1500.5 775.81 L1502.5 780.94 L1504.5 786.09 L1506.5 791.28 L1508.5 796.49 L1510.5 801.72 L1512.5 806.98 L1514.5 812.27 L1516.5 817.58 L1518.5 822.90 L1520.5 828.25 L1522.5 833.61 L1524.5 838.99 L1526.5 844.39 L1528.5 849.80 L1530.5 855.23 L1532.5 860.66 L1534.5 866.11 L1536.5 871.56 L1538.5 877.03 L1540.5 882.50 L1542.5 887.97 L1544.5 893.46 L1546.5 898.94 L1548.5 904.42 L1550.5 909.91 L1552.5 915.40 L1554.5 920.88 L1556.5 926.37 L1558.5 931.84 L1560.5 937.32 L1562.5 942.79 L1564.5 948.25 L1566.5 953.70 L1568.5 959.14 L1570.5 964.58 L1572.5 970.00 L1574.5 975.41 L1576.5 980.81 L1578.5 986.19 L1580.5 991.56 L1582.5 996.91 L1584.5 1002.25 L1586.5 1007.56 L1588.5 1012.86 L1590.5 1018.14 L1592.5 1023.40 L1594.5 1028.64 L1596.5 1033.85 L1598.5 1039.04 L1600.5 1044.21 L1602.5 1049.36 L1604.5 1054.47 L1606.5 1059.57 L1608.5 1064.63 L1610.5 1069.67 L1612.5 1074.68 L1614.5 1079.66 L1616.5 1084.61 L1618.5 1089.53 L1620.5 1094.42 L1622.5 1099.28 L1624.5 1104.11 L1626.5 1108.90 L1628.5 1113.66 L1630.5 1118.39 L1632.5 1123.08 L1634.5 1127.74 L1636.5 1132.37 L1638.5 1136.96 L1640.5 1141.51 L1642.5 1146.03 L1644.5 1150.51 L1646.5 1154.95 L1648.5 1159.35 L1650.5 1163.72 L1652.5 1168.05 L1654.5 1172.34 L1656.5 1176.59 L1658.5 1180.81 L1660.5 1184.98 L1662.5 1189.12 L1664.5 1193.21 L1666.5 1197.26 L1668.5 1201.28 L1670.5 1205.25 L1672.5 1209.19 L1674.5 1213.08 L1676.5 1216.93 L1678.5 1220.74 L1680.5 1224.51 L1682.5 1228.24 L1684.5 1231.93 L1686.5 1235.57 L1688.5 1239.18 L1690.5 1242.74 L1692.5 1246.26 L1694.5 1249.74 L1696.5 1253.18 L1698.5 1256.58 L1700.5 1259.94 L1702.5 1263.25 L1704.5 1266.52 L1706.5 1269.76 L1708.5 1272.95 L1710.5 1276.10 L1712.5 1279.21 L1714.5 1282.28 L1716.5 1285.31 L1718.5 1288.29 L1720.5 1291.24 L1722.5 1294.15 L1724.5 1297.02 L1726.5 1299.84 L1728.5 1302.63 L1730.5 1305.38 L1732.5 1308.09 L1734.5 1310.75 L1736.5 1313.38 L1738.5 1315.98 L1740.5 1318.53 L1742.5 1321.04 L1744.5 1323.52 L1746.5 1325.96 L1748.5 1328.36 L1750.5 1330.73 L1752.5 1333.05 L1754.5 1335.34 L1756.5 1337.60 L1758.5 1339.82 L1760.5 1342.00 L1762.5 1344.15 L1764.5 1346.26 L1766.5 1348.34 L1768.5 1350.38 L1770.5 1352.39 L1772.5 1354.36 L1774.5 1356.30 L1776.5 1358.21 L1778.5 1360.08 L1780.5 1361.93 L1782.5 1363.73 L1784.5 1365.51 L1786.5 1367.26 L1788.5 1368.97 L1790.5 1370.66 L1792.5 1372.31 L1794.5 1373.93 L1796.5 1375.53 L1798.5 1377.09 L1800.5 1378.63 L1802.5 1380.13 L1804.5 1381.61 L1806.5 1383.06 L1808.5 1384.48 L1810.5 1385.87 L1812.5 1387.24 L1814.5 1388.58 L1816.5 1389.90 L1818.5 1391.18 L1820.5 1392.45 L1822.5 1393.68 L1824.5 1394.90 L1826.5 1396.08 L1828.5 1397.25 L1830.5 1398.39 L1832.5 1399.50 L1834.5 1400.60 L1836.5 1401.67 L1838.5 1402.72 L1840.5 1403.74 L1842.5 1404.75 L1844.5 1405.73 L1846.5 1406.69 L1848.5 1407.63 L1850.5 1408.55 L1852.5 1409.46 L1854.5 1410.34 L1856.5 1411.20 L1858.5 1412.04 L1860.5 1412.86 L1862.5 1413.67 L1864.5 1414.46 L1866.5 1415.23 L1868.5 1415.98 L1870.5 1416.71 L1872.5 1417.43 L1874.5 1418.13 L1876.5 1418.82 L1878.5 1419.49 L1880.5 1420.14 L1882.5 1420.78 L1884.5 1421.40 L1886.5 1422.01 L1888.5 1422.60 L1890.5 1423.18 L1892.5 1423.75 L1894.5 1424.30 L1896.5 1424.84 L1898.5 1425.36 L1900.5 1425.87 L1902.5 1426.37 L1904.5 1426.86 L1906.5 1427.34 L1908.5 1427.80 L1910.5 1428.25 L1912.5 1428.69 L1914.5 1429.12 L1916.5 1429.54 L1918.5 1429.94 L1920.5 1430.34 L1922.5 1430.73 L1924.5 1431.10 L1926.5 1431.47 L1928.5 1431.83 L1930.5 1432.17 L1932.5 1432.51 L1934.5 1432.84 L1936.5 1433.16 L1938.5 1433.47 L1940.5 1433.78 L1942.5 1434.07 L1944.5 1434.36 L1946.5 1434.64 L1948.5 1434.91 L1950.5 1435.18 L1952.5 1435.43 L1954.5 1435.68 L1956.5 1435.93 L1958.5 1436.16 L1960.5 1436.39 L1962.5 1436.61 L1964.5 1436.83 L1966.5 1437.04 L1968.5 1437.25 L1970.5 1437.45 L1972.5 1437.64 L1974.5 1437.83 L1976.5 1438.01 L1978.5 1438.19 L1980.5 1438.36 L1982.5 1438.52 L1984.5 1438.69 L1986.5 1438.84 L1988.5 1439.00 L1990.5 1439.14 L1992.5 1439.29 L1994.5 1439.43 L1996.5 1439.56 L1998.5 1439.69 L2000.5 1439.82 L2002.5 1439.94 L2004.5 1440.06 L2006.5 1440.18 L2008.5 1440.29 L2010.5 1440.40 L2012.5 1440.50 L2014.5 1440.60 L2016.5 1440.70 L2018.5 1440.80 L2020.5 1440.89 L2022.5 1440.98 L2024.5 1441.07 L2026.5 1441.15 L2028.5 1441.23 L2030.5 1441.31 L2032.5 1441.39 L2034.5 1441.46 L2036.5 1441.54 L2038.5 1441.60 L2040.5 1441.67 L2042.5 1441.74 L2044.5 1441.80 L2046.5 1441.86 L2048.5 1441.92 L2050.5 1441.98 L2052.5 1442.03 L2054.5 1442.08 L2056.5 1442.13 L2058.5 1442.18 L2060.5 1442.23 L2062.5 1442.28 L2064.5 1442.32 L2066.5 1442.37 L2068.5 1442.41 L2070.5 1442.45 L2072.5 1442.49 L2074.5 1442.52 L2076.5 1442.56 L2078.5 1442.60 L2080.5 1442.63 L2082.5 1442.66 L2084.5 1442.69 L2086.5 1442.72 L2088.5 1442.75 L2090.5 1442.78 L2092.5 1442.81 L2094.5 1442.84 L2096.5 1442.86 L2098.5 1442.89 L2100.5 1442.91 L2102.5 1442.93 L2104.5 1442.95 L2106.5 1442.97 L2108.5 1443.00 L2110.5 1443.01 L2112.5 1443.03 L2114.5 1443.05 L2116.5 1443.07 L2118.5 1443.09 L2120.5 1443.10 L2122.5 1443.12 L2124.5 1443.13 L2126.5 1443.15 L2128.5 1443.16 L2130.5 1443.18 L2132.5 1443.19 L2134.5 1443.20 L2136.5 1443.21 L2138.5 1443.22 L2140.5 1443.24 L2142.5 1443.25 L2144.5 1443.26 L2146.5 1443.27 L2148.5 1443.28 L2150.5 1443.29 L2152.5 1443.29 L2154.5 1443.30 L2156.5 1443.31 L2158.5 1443.32 L2160.5 1443.33 L2162.5 1443.33 L2164.5 1443.34 L2166.5 1443.35 L2168.5 1443.35 L2170.5 1443.36 L2172.5 1443.37 L2174.5 1443.37 L2176.5 1443.38 L2178.5 1443.38 L2180.5 1443.39 L2182.5 1443.39 L2184.5 1443.40 L2186.5 1443.40 L2188.5 1443.40 L2190.5 1443.41 L2192.5 1443.41 L2194.5 1443.42 L2196.5 1443.42 L2198.5 1443.42 L2200.5 1443.43 L2202.5 1443.43 L2204.5 1443.43 L2206.5 1443.44 L2208.5 1443.44 L2210.5 1443.44 L2212.5 1443.44 L2214.5 1443.45 L2216.5 1443.45 L2218.5 1443.45 L2220.5 1443.45 L2222.5 1443.46 L2224.5 1443.46 L2226.5 1443.46 L2228.5 1443.46 L2230.5 1443.46 L2232.5 1443.46 L2234.5 1443.47 L2236.5 1443.47 L2238.5 1443.47 L2240.5 1443.47 L2242.5 1443.47 L2244.5 1443.47 L2246.5 1443.47 L2248.5 1443.48 L2250.5 1443.48 L2252.5 1443.48 L2254.5 1443.48 L2256.5 1443.48 L2258.5 1443.48 L2260.5 1443.48 L2262.5 1443.48 L2264.5 1443.48 L2266.5 1443.48 L2268.5 1443.48 L2270.5 1443.49 L2272.5 1443.49 L2274.5 1443.49 L2276.5 1443.49 L2278.5 1443.49 L2280.5 1443.49 L2282.5 1443.49 L2284.5 1443.49 L2286.5 1443.49 L2288.5 1443.49 L2290.5 1443.49 L2292.5 1443.49 L2294.5 1443.49 L2296.5 1443.49 L2298.5 1443.49 L2300.5 1443.49 L2302.5 1443.49 L2304.5 1443.49 L2306.5 1443.49 L2308.5 1443.49 L2310.5 1443.49"/>
<path clip-path="url(#pa)" fill="none" stroke="#1A6FDF" stroke-width="9" stroke-linecap="round" stroke-linejoin="round" d="M412.0 1466.49 L414.0 1466.49 L416.0 1466.49 L418.0 1466.49 L420.0 1466.49 L422.0 1466.49 L424.0 1466.49 L426.0 1466.49 L428.0 1466.49 L430.0 1466.49 L432.0 1466.49 L434.0 1466.48 L436.0 1466.48 L438.0 1466.48 L440.0 1466.48 L442.0 1466.48 L444.0 1466.48 L446.0 1466.48 L448.0 1466.48 L450.0 1466.48 L452.0 1466.48 L454.0 1466.48 L456.0 1466.48 L458.0 1466.47 L460.0 1466.47 L462.0 1466.47 L464.0 1466.47 L466.0 1466.47 L468.0 1466.47 L470.0 1466.47 L472.0 1466.47 L474.0 1466.46 L476.0 1466.46 L478.0 1466.46 L480.0 1466.46 L482.0 1466.46 L484.0 1466.46 L486.0 1466.45 L488.0 1466.45 L490.0 1466.45 L492.0 1466.45 L494.0 1466.45 L496.0 1466.44 L498.0 1466.44 L500.0 1466.44 L502.0 1466.44 L504.0 1466.43 L506.0 1466.43 L508.0 1466.43 L510.0 1466.42 L512.0 1466.42 L514.0 1466.42 L516.0 1466.42 L518.0 1466.41 L520.0 1466.41 L522.0 1466.40 L524.0 1466.40 L526.0 1466.40 L528.0 1466.39 L530.0 1466.39 L532.0 1466.38 L534.0 1466.38 L536.0 1466.37 L538.0 1466.37 L540.0 1466.36 L542.0 1466.36 L544.0 1466.35 L546.0 1466.35 L548.0 1466.34 L550.0 1466.33 L552.0 1466.33 L554.0 1466.32 L556.0 1466.31 L558.0 1466.31 L560.0 1466.30 L562.0 1466.29 L564.0 1466.28 L566.0 1466.28 L568.0 1466.27 L570.0 1466.26 L572.0 1466.25 L574.0 1466.24 L576.0 1466.23 L578.0 1466.22 L580.0 1466.21 L582.0 1466.20 L584.0 1466.19 L586.0 1466.17 L588.0 1466.16 L590.0 1466.15 L592.0 1466.14 L594.0 1466.12 L596.0 1466.11 L598.0 1466.09 L600.0 1466.08 L602.0 1466.06 L604.0 1466.05 L606.0 1466.03 L608.0 1466.01 L610.0 1465.99 L612.0 1465.98 L614.0 1465.96 L616.0 1465.94 L618.0 1465.92 L620.0 1465.90 L622.0 1465.87 L624.0 1465.85 L626.0 1465.83 L628.0 1465.80 L630.0 1465.78 L632.0 1465.75 L634.0 1465.73 L636.0 1465.70 L638.0 1465.67 L640.0 1465.64 L642.0 1465.61 L644.0 1465.58 L646.0 1465.55 L648.0 1465.51 L650.0 1465.48 L652.0 1465.44 L654.0 1465.41 L656.0 1465.37 L658.0 1465.33 L660.0 1465.29 L662.0 1465.25 L664.0 1465.20 L666.0 1465.16 L668.0 1465.11 L670.0 1465.07 L672.0 1465.02 L674.0 1464.97 L676.0 1464.91 L678.0 1464.86 L680.0 1464.81 L682.0 1464.75 L684.0 1464.69 L686.0 1464.63 L688.0 1464.57 L690.0 1464.50 L692.0 1464.44 L694.0 1464.37 L696.0 1464.30 L698.0 1464.23 L700.0 1464.15 L702.0 1464.08 L704.0 1464.00 L706.0 1463.92 L708.0 1463.83 L710.0 1463.75 L712.0 1463.66 L714.0 1463.57 L716.0 1463.47 L718.0 1463.38 L720.0 1463.28 L722.0 1463.17 L724.0 1463.07 L726.0 1462.96 L728.0 1462.85 L730.0 1462.73 L732.0 1462.61 L734.0 1462.49 L736.0 1462.37 L738.0 1462.24 L740.0 1462.11 L742.0 1461.97 L744.0 1461.83 L746.0 1461.69 L748.0 1461.54 L750.0 1461.39 L752.0 1461.23 L754.0 1461.07 L756.0 1460.91 L758.0 1460.74 L760.0 1460.56 L762.0 1460.39 L764.0 1460.20 L766.0 1460.01 L768.0 1459.82 L770.0 1459.62 L772.0 1459.42 L774.0 1459.21 L776.0 1459.00 L778.0 1458.77 L780.0 1458.55 L782.0 1458.32 L784.0 1458.08 L786.0 1457.83 L788.0 1457.58 L790.0 1457.33 L792.0 1457.06 L794.0 1456.79 L796.0 1456.51 L798.0 1456.23 L800.0 1455.94 L802.0 1455.64 L804.0 1455.33 L806.0 1455.02 L808.0 1454.70 L810.0 1454.36 L812.0 1454.03 L814.0 1453.68 L816.0 1453.32 L818.0 1452.96 L820.0 1452.59 L822.0 1452.21 L824.0 1451.81 L826.0 1451.41 L828.0 1451.00 L830.0 1450.58 L832.0 1450.15 L834.0 1449.71 L836.0 1449.26 L838.0 1448.80 L840.0 1448.33 L842.0 1447.85 L844.0 1447.35 L846.0 1446.85 L848.0 1446.33 L850.0 1445.80 L852.0 1445.26 L854.0 1444.70 L856.0 1444.14 L858.0 1443.56 L860.0 1442.97 L862.0 1442.36 L864.0 1441.74 L866.0 1441.11 L868.0 1440.46 L870.0 1439.80 L872.0 1439.13 L874.0 1438.44 L876.0 1437.74 L878.0 1437.02 L880.0 1436.28 L882.0 1435.53 L884.0 1434.76 L886.0 1433.98 L888.0 1433.18 L890.0 1432.36 L892.0 1431.53 L894.0 1430.68 L896.0 1429.81 L898.0 1428.92 L900.0 1428.02 L902.0 1427.10 L904.0 1426.15 L906.0 1425.19 L908.0 1424.21 L910.0 1423.21 L912.0 1422.20 L914.0 1421.16 L916.0 1420.10 L918.0 1419.01 L920.0 1417.91 L922.0 1416.79 L924.0 1415.64 L926.0 1414.48 L928.0 1413.29 L930.0 1412.08 L932.0 1410.84 L934.0 1409.58 L936.0 1408.30 L938.0 1407.00 L940.0 1405.67 L942.0 1404.31 L944.0 1402.94 L946.0 1401.53 L948.0 1400.10 L950.0 1398.65 L952.0 1397.17 L954.0 1395.66 L956.0 1394.13 L958.0 1392.57 L960.0 1390.98 L962.0 1389.36 L964.0 1387.72 L966.0 1386.05 L968.0 1384.35 L970.0 1382.62 L972.0 1380.86 L974.0 1379.08 L976.0 1377.26 L978.0 1375.41 L980.0 1373.53 L982.0 1371.63 L984.0 1369.69 L986.0 1367.72 L988.0 1365.71 L990.0 1363.68 L992.0 1361.61 L994.0 1359.51 L996.0 1357.38 L998.0 1355.22 L1000.0 1353.02 L1002.0 1350.79 L1004.0 1348.52 L1006.0 1346.22 L1008.0 1343.89 L1010.0 1341.52 L1012.0 1339.12 L1014.0 1336.68 L1016.0 1334.20 L1018.0 1331.69 L1020.0 1329.15 L1022.0 1326.57 L1024.0 1323.95 L1026.0 1321.29 L1028.0 1318.60 L1030.0 1315.87 L1032.0 1313.10 L1034.0 1310.30 L1036.0 1307.45 L1038.0 1304.57 L1040.0 1301.65 L1042.0 1298.70 L1044.0 1295.70 L1046.0 1292.66 L1048.0 1289.59 L1050.0 1286.48 L1052.0 1283.33 L1054.0 1280.13 L1056.0 1276.90 L1058.0 1273.63 L1060.0 1270.32 L1062.0 1266.97 L1064.0 1263.58 L1066.0 1260.15 L1068.0 1256.68 L1070.0 1253.16 L1072.0 1249.61 L1074.0 1246.02 L1076.0 1242.39 L1078.0 1238.71 L1080.0 1235.00 L1082.0 1231.24 L1084.0 1227.45 L1086.0 1223.61 L1088.0 1219.73 L1090.0 1215.81 L1092.0 1211.86 L1094.0 1207.86 L1096.0 1203.82 L1098.0 1199.74 L1100.0 1195.61 L1102.0 1191.45 L1104.0 1187.25 L1106.0 1183.01 L1108.0 1178.73 L1110.0 1174.41 L1112.0 1170.04 L1114.0 1165.64 L1116.0 1161.20 L1118.0 1156.72 L1120.0 1152.20 L1122.0 1147.64 L1124.0 1143.05 L1126.0 1138.41 L1128.0 1133.73 L1130.0 1129.02 L1132.0 1124.27 L1134.0 1119.49 L1136.0 1114.66 L1138.0 1109.80 L1140.0 1104.90 L1142.0 1099.97 L1144.0 1095.00 L1146.0 1089.99 L1148.0 1084.95 L1150.0 1079.87 L1152.0 1074.76 L1154.0 1069.62 L1156.0 1064.44 L1158.0 1059.23 L1160.0 1053.98 L1162.0 1048.71 L1164.0 1043.40 L1166.0 1038.06 L1168.0 1032.69 L1170.0 1027.29 L1172.0 1021.86 L1174.0 1016.40 L1176.0 1010.92 L1178.0 1005.40 L1180.0 999.86 L1182.0 994.29 L1184.0 988.70 L1186.0 983.08 L1188.0 977.43 L1190.0 971.76 L1192.0 966.07 L1194.0 960.36 L1196.0 954.62 L1198.0 948.86 L1200.0 943.08 L1202.0 937.28 L1204.0 931.46 L1206.0 925.63 L1208.0 919.77 L1210.0 913.90 L1212.0 908.02 L1214.0 902.12 L1216.0 896.20 L1218.0 890.28 L1220.0 884.34 L1222.0 878.38 L1224.0 872.42 L1226.0 866.45 L1228.0 860.47 L1230.0 854.48 L1232.0 848.48 L1234.0 842.48 L1236.0 836.47 L1238.0 830.46 L1240.0 824.45 L1242.0 818.43 L1244.0 812.41 L1246.0 806.40 L1248.0 800.38 L1250.0 794.37 L1252.0 788.36 L1254.0 782.35 L1256.0 776.35 L1258.0 770.35 L1260.0 764.36 L1262.0 758.38 L1264.0 752.41 L1266.0 746.45 L1268.0 740.50 L1270.0 734.57 L1272.0 728.65 L1274.0 722.74 L1276.0 716.85 L1278.0 710.98 L1280.0 705.12 L1282.0 699.28 L1284.0 693.47 L1286.0 687.68 L1288.0 681.91 L1290.0 676.16 L1292.0 670.44 L1294.0 664.74 L1296.0 659.08 L1298.0 653.44 L1300.0 647.83 L1302.0 642.25 L1304.0 636.71 L1306.0 631.19 L1308.0 625.72 L1310.0 620.28 L1312.0 614.87 L1314.0 609.50 L1316.0 604.18 L1318.0 598.89 L1320.0 593.64 L1322.0 588.44 L1324.0 583.28 L1326.0 578.16 L1328.0 573.09 L1330.0 568.07 L1332.0 563.09 L1334.0 558.17 L1336.0 553.29 L1338.0 548.47 L1340.0 543.70 L1342.0 538.98 L1344.0 534.32 L1346.0 529.71 L1348.0 525.16 L1350.0 520.67 L1352.0 516.24 L1354.0 511.87 L1356.0 507.55 L1358.0 503.30 L1360.0 499.12 L1362.0 494.99 L1364.0 490.94 L1366.0 486.94 L1368.0 483.02 L1370.0 479.16 L1372.0 475.37 L1374.0 471.65 L1376.0 468.00 L1378.0 464.43 L1380.0 460.92 L1382.0 457.49 L1384.0 454.13 L1386.0 450.84 L1388.0 447.64 L1390.0 444.50 L1392.0 441.45 L1394.0 438.47 L1396.0 435.57 L1398.0 432.75 L1400.0 430.01 L1402.0 427.36 L1404.0 424.78 L1406.0 422.28 L1408.0 419.87 L1410.0 417.54 L1412.0 415.29 L1414.0 413.13 L1416.0 411.05 L1418.0 409.06 L1420.0 407.15 L1422.0 405.33 L1424.0 403.60 L1426.0 401.96 L1428.0 400.40 L1430.0 398.93 L1432.0 397.55 L1434.0 396.25 L1436.0 395.05 L1438.0 393.93 L1440.0 392.91 L1442.0 391.97 L1444.0 391.13 L1446.0 390.37 L1448.0 389.71 L1450.0 389.13 L1452.0 388.65 L1454.0 388.26 L1456.0 387.96 L1458.0 387.75 L1460.0 387.63 L1462.0 387.60 L1464.0 387.67 L1466.0 387.82 L1468.0 388.07 L1470.0 388.40 L1472.0 388.83 L1474.0 389.35 L1476.0 389.96 L1478.0 390.66 L1480.0 391.45 L1482.0 392.34 L1484.0 393.31 L1486.0 394.37 L1488.0 395.52 L1490.0 396.76 L1492.0 398.09 L1494.0 399.50 L1496.0 401.01 L1498.0 402.60 L1500.0 404.28 L1502.0 406.05 L1504.0 407.91 L1506.0 409.85 L1508.0 411.87 L1510.0 413.99 L1512.0 416.18 L1514.0 418.46 L1516.0 420.82 L1518.0 423.27 L1520.0 425.80 L1522.0 428.41 L1524.0 431.10 L1526.0 433.87 L1528.0 436.72 L1530.0 439.65 L1532.0 442.66 L1534.0 445.75 L1536.0 448.91 L1538.0 452.15 L1540.0 455.46 L1542.0 458.85 L1544.0 462.31 L1546.0 465.85 L1548.0 469.45 L1550.0 473.13 L1552.0 476.88 L1554.0 480.70 L1556.0 484.58 L1558.0 488.53 L1560.0 492.55 L1562.0 496.64 L1564.0 500.78 L1566.0 505.00 L1568.0 509.27 L1570.0 513.61 L1572.0 518.01 L1574.0 522.46 L1576.0 526.98 L1578.0 531.55 L1580.0 536.18 L1582.0 540.86 L1584.0 545.60 L1586.0 550.39 L1588.0 555.24 L1590.0 560.13 L1592.0 565.08 L1594.0 570.07 L1596.0 575.11 L1598.0 580.20 L1600.0 585.34 L1602.0 590.51 L1604.0 595.73 L1606.0 601.00 L1608.0 606.30 L1610.0 611.65 L1612.0 617.03 L1614.0 622.45 L1616.0 627.90 L1618.0 633.40 L1620.0 638.92 L1622.0 644.48 L1624.0 650.07 L1626.0 655.69 L1628.0 661.34 L1630.0 667.02 L1632.0 672.72 L1634.0 678.45 L1636.0 684.21 L1638.0 689.99 L1640.0 695.79 L1642.0 701.62 L1644.0 707.46 L1646.0 713.32 L1648.0 719.20 L1650.0 725.10 L1652.0 731.01 L1654.0 736.94 L1656.0 742.88 L1658.0 748.83 L1660.0 754.80 L1662.0 760.77 L1664.0 766.76 L1666.0 772.75 L1668.0 778.75 L1670.0 784.75 L1672.0 790.76 L1674.0 796.77 L1676.0 802.79 L1678.0 808.80 L1680.0 814.82 L1682.0 820.84 L1684.0 826.85 L1686.0 832.87 L1688.0 838.88 L1690.0 844.88 L1692.0 850.88 L1694.0 856.87 L1696.0 862.86 L1698.0 868.84 L1700.0 874.81 L1702.0 880.77 L1704.0 886.71 L1706.0 892.65 L1708.0 898.57 L1710.0 904.48 L1712.0 910.38 L1714.0 916.25 L1716.0 922.12 L1718.0 927.96 L1720.0 933.79 L1722.0 939.60 L1724.0 945.39 L1726.0 951.17 L1728.0 956.92 L1730.0 962.64 L1732.0 968.35 L1734.0 974.03 L1736.0 979.69 L1738.0 985.33 L1740.0 990.94 L1742.0 996.52 L1744.0 1002.08 L1746.0 1007.61 L1748.0 1013.12 L1750.0 1018.59 L1752.0 1024.04 L1754.0 1029.46 L1756.0 1034.84 L1758.0 1040.20 L1760.0 1045.53 L1762.0 1050.82 L1764.0 1056.09 L1766.0 1061.32 L1768.0 1066.51 L1770.0 1071.68 L1772.0 1076.81 L1774.0 1081.91 L1776.0 1086.97 L1778.0 1092.00 L1780.0 1096.99 L1782.0 1101.94 L1784.0 1106.86 L1786.0 1111.75 L1788.0 1116.59 L1790.0 1121.40 L1792.0 1126.18 L1794.0 1130.91 L1796.0 1135.61 L1798.0 1140.27 L1800.0 1144.89 L1802.0 1149.47 L1804.0 1154.01 L1806.0 1158.52 L1808.0 1162.98 L1810.0 1167.41 L1812.0 1171.79 L1814.0 1176.14 L1816.0 1180.45 L1818.0 1184.71 L1820.0 1188.94 L1822.0 1193.12 L1824.0 1197.27 L1826.0 1201.37 L1828.0 1205.44 L1830.0 1209.46 L1832.0 1213.44 L1834.0 1217.39 L1836.0 1221.29 L1838.0 1225.15 L1840.0 1228.97 L1842.0 1232.75 L1844.0 1236.49 L1846.0 1240.19 L1848.0 1243.84 L1850.0 1247.46 L1852.0 1251.04 L1854.0 1254.57 L1856.0 1258.07 L1858.0 1261.52 L1860.0 1264.94 L1862.0 1268.31 L1864.0 1271.65 L1866.0 1274.94 L1868.0 1278.20 L1870.0 1281.41 L1872.0 1284.59 L1874.0 1287.73 L1876.0 1290.82 L1878.0 1293.88 L1880.0 1296.90 L1882.0 1299.88 L1884.0 1302.83 L1886.0 1305.73 L1888.0 1308.59 L1890.0 1311.42 L1892.0 1314.21 L1894.0 1316.96 L1896.0 1319.68 L1898.0 1322.36 L1900.0 1325.00 L1902.0 1327.60 L1904.0 1330.17 L1906.0 1332.70 L1908.0 1335.20 L1910.0 1337.66 L1912.0 1340.08 L1914.0 1342.47 L1916.0 1344.83 L1918.0 1347.15 L1920.0 1349.43 L1922.0 1351.69 L1924.0 1353.90 L1926.0 1356.09 L1928.0 1358.24 L1930.0 1360.36 L1932.0 1362.44 L1934.0 1364.50 L1936.0 1366.52 L1938.0 1368.51 L1940.0 1370.47 L1942.0 1372.39 L1944.0 1374.29 L1946.0 1376.15 L1948.0 1377.99 L1950.0 1379.79 L1952.0 1381.57 L1954.0 1383.32 L1956.0 1385.03 L1958.0 1386.72 L1960.0 1388.38 L1962.0 1390.01 L1964.0 1391.62 L1966.0 1393.19 L1968.0 1394.74 L1970.0 1396.27 L1972.0 1397.76 L1974.0 1399.23 L1976.0 1400.68 L1978.0 1402.10 L1980.0 1403.49 L1982.0 1404.86 L1984.0 1406.20 L1986.0 1407.52 L1988.0 1408.82 L1990.0 1410.09 L1992.0 1411.34 L1994.0 1412.56 L1996.0 1413.77 L1998.0 1414.95 L2000.0 1416.11 L2002.0 1417.24 L2004.0 1418.36 L2006.0 1419.45 L2008.0 1420.52 L2010.0 1421.57 L2012.0 1422.61 L2014.0 1423.62 L2016.0 1424.61 L2018.0 1425.58 L2020.0 1426.53 L2022.0 1427.47 L2024.0 1428.38 L2026.0 1429.28 L2028.0 1430.16 L2030.0 1431.02 L2032.0 1431.86 L2034.0 1432.69 L2036.0 1433.50 L2038.0 1434.29 L2040.0 1435.07 L2042.0 1435.83 L2044.0 1436.58 L2046.0 1437.31 L2048.0 1438.02 L2050.0 1438.72 L2052.0 1439.40 L2054.0 1440.07 L2056.0 1440.73 L2058.0 1441.37 L2060.0 1441.99 L2062.0 1442.61 L2064.0 1443.21 L2066.0 1443.79 L2068.0 1444.37 L2070.0 1444.93 L2072.0 1445.48 L2074.0 1446.01 L2076.0 1446.54 L2078.0 1447.05 L2080.0 1447.55 L2082.0 1448.04 L2084.0 1448.52 L2086.0 1448.99 L2088.0 1449.44 L2090.0 1449.89 L2092.0 1450.33 L2094.0 1450.75 L2096.0 1451.17 L2098.0 1451.58 L2100.0 1451.97 L2102.0 1452.36 L2104.0 1452.74 L2106.0 1453.11 L2108.0 1453.47 L2110.0 1453.82 L2112.0 1454.16 L2114.0 1454.50 L2116.0 1454.82 L2118.0 1455.14 L2120.0 1455.46 L2122.0 1455.76 L2124.0 1456.06 L2126.0 1456.34 L2128.0 1456.63 L2130.0 1456.90 L2132.0 1457.17 L2134.0 1457.43 L2136.0 1457.68 L2138.0 1457.93 L2140.0 1458.17 L2142.0 1458.41 L2144.0 1458.64 L2146.0 1458.86 L2148.0 1459.08 L2150.0 1459.29 L2152.0 1459.50 L2154.0 1459.70 L2156.0 1459.90 L2158.0 1460.09 L2160.0 1460.28 L2162.0 1460.46 L2164.0 1460.63 L2166.0 1460.81 L2168.0 1460.97 L2170.0 1461.14 L2172.0 1461.29 L2174.0 1461.45 L2176.0 1461.60 L2178.0 1461.75 L2180.0 1461.89 L2182.0 1462.03 L2184.0 1462.16 L2186.0 1462.29 L2188.0 1462.42 L2190.0 1462.54 L2192.0 1462.66 L2194.0 1462.78 L2196.0 1462.89 L2198.0 1463.00 L2200.0 1463.11 L2202.0 1463.21 L2204.0 1463.32 L2206.0 1463.41 L2208.0 1463.51 L2210.0 1463.60 L2212.0 1463.69 L2214.0 1463.78 L2216.0 1463.87 L2218.0 1463.95 L2220.0 1464.03 L2222.0 1464.11 L2224.0 1464.18 L2226.0 1464.26 L2228.0 1464.33 L2230.0 1464.40 L2232.0 1464.46 L2234.0 1464.53 L2236.0 1464.59 L2238.0 1464.66 L2240.0 1464.71 L2242.0 1464.77 L2244.0 1464.83 L2246.0 1464.88 L2248.0 1464.94 L2250.0 1464.99 L2252.0 1465.04 L2254.0 1465.08 L2256.0 1465.13 L2258.0 1465.18 L2260.0 1465.22 L2262.0 1465.26 L2264.0 1465.30 L2266.0 1465.34 L2268.0 1465.38 L2270.0 1465.42 L2272.0 1465.46 L2274.0 1465.49 L2276.0 1465.53 L2278.0 1465.56 L2280.0 1465.59 L2282.0 1465.62 L2284.0 1465.65 L2286.0 1465.68 L2288.0 1465.71 L2290.0 1465.74 L2292.0 1465.76 L2294.0 1465.79 L2296.0 1465.81 L2298.0 1465.84 L2300.0 1465.86 L2302.0 1465.88 L2304.0 1465.90 L2306.0 1465.92 L2308.0 1465.94 L2310.0 1465.96 L2312.0 1465.98"/>
<g fill="#000">
<rect x="411" y="30" width="7" height="1538"/>
<rect x="2311" y="30" width="6" height="1538"/>
<rect x="411" y="30" width="1906" height="4"/>
<rect x="411" y="1561" width="1906" height="7"/>
</g>
<path fill="none" stroke="#000" stroke-width="6" stroke-linecap="round" d="M384 1454.4H414M384 1016.2H414M384 577.9H414M384 139.7H414M400 1235.3H414M400 797.1H414M400 358.8H414M414.4 1564V1594.5M889.3 1564V1594.5M1364.2 1564V1594.5M1839.1 1564V1594.5M2314.0 1564V1594.5M651.9 1564V1579M1126.8 1564V1579M1601.7 1564V1579M2076.6 1564V1579"/>
<g font-family="Liberation Sans, Arial, sans-serif" fill="#000" stroke="#000" stroke-width="1.1" stroke-linejoin="round">
<text transform="translate(362.2 1485.7) scale(0.957 1)" text-anchor="end" font-size="104.5">0</text>
<text transform="translate(362.2 1047.5) scale(0.957 1)" text-anchor="end" font-size="104.5">1000</text>
<text transform="translate(362.2 609.2) scale(0.957 1)" text-anchor="end" font-size="104.5">2000</text>
<text transform="translate(362.2 171.0) scale(0.957 1)" text-anchor="end" font-size="104.5">3000</text>
<text transform="translate(414.4 1694.0) scale(0.957 1)" text-anchor="middle" font-size="104.5">0</text>
<text transform="translate(889.3 1694.0) scale(0.957 1)" text-anchor="middle" font-size="104.5">20</text>
<text transform="translate(1364.2 1694.0) scale(0.957 1)" text-anchor="middle" font-size="104.5">40</text>
<text transform="translate(1839.1 1694.0) scale(0.957 1)" text-anchor="middle" font-size="104.5">60</text>
<text transform="translate(2314.0 1694.0) scale(0.957 1)" text-anchor="middle" font-size="104.5">80</text>
<text transform="translate(1085.6 1856.2) scale(0.964 1)" text-anchor="start" font-size="105.0">Height (mm)</text>
<text transform="translate(99.8 1403.8) rotate(-90) scale(0.967 1)" text-anchor="start" font-size="105.0">Intensity of OH-PLIF signal</text>
</g>
<rect x="1786.5" y="87.5" width="463.5" height="465.5" fill="none" stroke="#000" stroke-width="3" transform="translate(0 0)" />
<g font-family="Liberation Sans, Arial, sans-serif" fill="#000" stroke="#000" stroke-width="0.7" stroke-linejoin="round">
<rect x="1866.7" y="127.0" width="30.4" height="30.4" fill="none" stroke="#515151" stroke-width="3.6" stroke-linejoin="miter"/>
<text transform="translate(1963.2 161.6) scale(0.957 1)" text-anchor="start" font-size="60.1">DB1</text>
<rect x="1866.7" y="198.4" width="30.4" height="30.4" fill="none" stroke="#F14040" stroke-width="3.6" stroke-linejoin="miter"/>
<text transform="translate(1963.2 233.9) scale(0.957 1)" text-anchor="start" font-size="60.1">DB2</text>
<rect x="1866.7" y="270.0" width="30.4" height="30.4" fill="none" stroke="#1A6FDF" stroke-width="3.6" stroke-linejoin="miter"/>
<text transform="translate(1963.2 305.3) scale(0.957 1)" text-anchor="start" font-size="60.1">DB3</text>
<path d="M1817.5 356.4H1946.5" stroke="#515151" stroke-width="9" stroke-linecap="round"/>
<text transform="translate(1963.2 376.1) scale(0.957 1)" text-anchor="start" font-size="60.1">Fit of DB1</text>
<path d="M1817.5 427.5H1946.5" stroke="#F14040" stroke-width="9" stroke-linecap="round"/>
<text transform="translate(1963.2 446.7) scale(0.957 1)" text-anchor="start" font-size="60.1">Fit of DB2</text>
<path d="M1817.5 498.5H1946.5" stroke="#1A6FDF" stroke-width="9" stroke-linecap="round"/>
<text transform="translate(1963.2 517.9) scale(0.957 1)" text-anchor="start" font-size="60.1">Fit of DB3</text>
</g>
</svg></body></html>
